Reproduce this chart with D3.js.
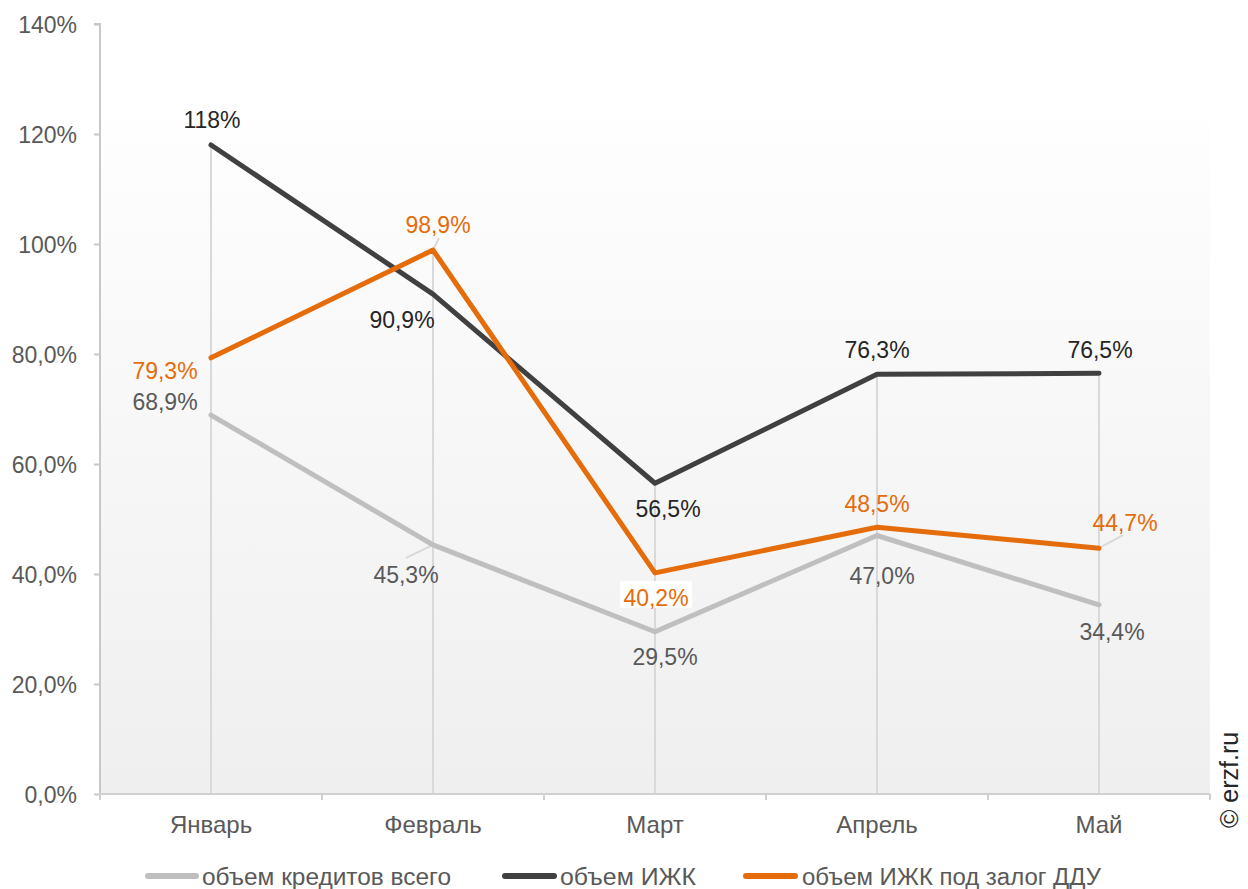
<!DOCTYPE html>
<html><head><meta charset="utf-8">
<script src="https://cdn.jsdelivr.net/npm/d3@7"></script>
<style>
html,body{margin:0;padding:0;background:#fff;}
svg{display:block;font-family:"Liberation Sans",Arial,sans-serif;}
</style></head>
<body><svg id="c" width="1248" height="889"></svg>
<script>
const categories = ["Январь","Февраль","Март","Апрель","Май"];
const totalCredits = [68.9, 45.3, 29.5, 47.0, 34.4];
const izhk = [118, 90.9, 56.5, 76.3, 76.5];
const izhkDdu = [79.3, 98.9, 40.2, 48.5, 44.7];
const totalLabels = ["68,9%","45,3%","29,5%","47,0%","34,4%"];
const izhkLabels = ["118%","90,9%","56,5%","76,3%","76,5%"];
const izhkDduLabels = ["79,3%","98,9%","40,2%","48,5%","44,7%"];
const yTicks = [0,20,40,60,80,100,120,140];
const yTickLabels = ["0,0%","20,0%","40,0%","60,0%","80,0%","100%","120%","140%"];
const legendNames = ["объем кредитов всего","объем ИЖК","объем ИЖК под залог ДДУ"];

const svg = d3.select("#c");
const L = 100, R = 1210, T = 24, B = 794;
const FS = 23;
const x = d3.scalePoint().domain(categories).range([L, R]).padding(0.5);
const xb = d3.scaleBand().domain(categories).range([L, R]);
const y = d3.scaleLinear().domain([0, 140]).range([B, T]);

// background gradient
const defs = svg.append("defs");
const g = defs.append("linearGradient").attr("id","bg").attr("x1",0).attr("y1",0).attr("x2",0).attr("y2",1);
g.append("stop").attr("offset","0%").attr("stop-color","#fefefe");
g.append("stop").attr("offset","100%").attr("stop-color","#efefef");
svg.append("rect").attr("x",L).attr("y",122).attr("width",R-L).attr("height",B-122).attr("fill","url(#bg)");

// drop lines
categories.forEach((c,i)=>{
  const top = Math.max(totalCredits[i], izhk[i], izhkDdu[i]);
  svg.append("line").attr("x1",x(c)).attr("x2",x(c)).attr("y1",y(top)).attr("y2",B)
    .attr("stroke","#d9d9d9").attr("stroke-width",2);
});

// y axis
const yAxis = svg.append("g").attr("transform",`translate(${L},0)`)
  .call(d3.axisLeft(y).tickValues(yTicks).tickSize(6).tickFormat((d,i)=>yTickLabels[i]));
yAxis.select(".domain").attr("stroke","#c8c8c8").attr("stroke-width",2).attr("d",`M-6,${T}H0V${B}`);
yAxis.selectAll(".tick line").attr("stroke","#c8c8c8").attr("stroke-width",2);
yAxis.selectAll(".tick text").attr("font-size",FS).attr("fill","#595959").attr("x",-23).attr("dy","0.35em")
  .attr("font-family","Liberation Sans, Arial, sans-serif");

// x axis
const xAxis = svg.append("g").attr("transform",`translate(0,${B})`)
  .call(d3.axisBottom(xb).tickSize(0).tickPadding(0));
xAxis.select(".domain").attr("stroke","#d0d0d0").attr("stroke-width",2).attr("d",`M${L},0H${R}`);
xAxis.selectAll(".tick text").attr("font-size",24).attr("fill","#595959").attr("y",39).attr("dy",0)
  .attr("font-family","Liberation Sans, Arial, sans-serif");
const bounds = categories.map(c=>xb(c)).concat([R]);
xAxis.selectAll(".bt").data(bounds).enter().append("line")
  .attr("x1",d=>d).attr("x2",d=>d).attr("y1",0).attr("y2",6).attr("stroke","#d0d0d0").attr("stroke-width",2);

// lines
const series = [
  {vals: totalCredits, color:"#bfbfbf", labels: totalLabels, tcolor:"#595959",
   off:[[-46,-5],[-27,38],[10,33],[5,48],[13,35]]},
  {vals: izhk, color:"#404040", labels: izhkLabels, tcolor:"#262626",
   off:[[1,-17],[-31,34],[13,34],[0,-16],[1,-15]]},
  {vals: izhkDdu, color:"#e46c0a", labels: izhkDduLabels, tcolor:"#e46c0a",
   off:[[-46,21],[5,-17],[1,33],[0,-15],[26,-17]]}
];
const line = d3.line().x((d,i)=>x(categories[i])).y(d=>y(d));

// leader lines
const leaders = [
  {s:0,i:1,to:[-27,13]},
  {s:2,i:1,to:[6,-12]},
  {s:2,i:4,to:[24,-13]}
];
leaders.forEach(l=>{
  const px = x(categories[l.i]), py = y(series[l.s].vals[l.i]);
  svg.append("line").attr("x1",px).attr("y1",py).attr("x2",px+l.to[0]).attr("y2",py+l.to[1])
    .attr("stroke","#d9d9d9").attr("stroke-width",2);
});

series.forEach(s=>{
  svg.append("path").datum(s.vals).attr("d",line).attr("fill","none").attr("stroke",s.color)
    .attr("stroke-width",5).attr("stroke-linecap","round").attr("stroke-linejoin","round");
});

// labels
series.forEach((s,si)=>{
  s.vals.forEach((v,i)=>{
    const lx = x(categories[i]) + s.off[i][0], ly = y(v) + s.off[i][1];
    if (si===2 && i===2) {
      svg.append("rect").attr("x",lx-36).attr("y",ly-25).attr("width",72).attr("height",27).attr("fill","#ffffff").attr("opacity",0.9);
    }
    svg.append("text").attr("x",lx).attr("y",ly).attr("text-anchor","middle")
      .attr("font-size",FS).attr("fill",s.tcolor).text(s.labels[i]);
  });
});

// legend
const leg = [
  {sx:145, ex:199, tx:202, tw:249},
  {sx:502, ex:557, tx:560, tw:136},
  {sx:743, ex:798, tx:802, tw:299}
];
leg.forEach((l,i)=>{
  svg.append("line").attr("x1",l.sx+3).attr("x2",l.ex-3).attr("y1",876).attr("y2",876)
    .attr("stroke",series[i].color).attr("stroke-width",6).attr("stroke-linecap","round");
  svg.append("text").attr("x",l.tx).attr("y",885).attr("font-size",23).attr("fill","#595959")
    .attr("textLength",l.tw).attr("lengthAdjust","spacingAndGlyphs").text(legendNames[i]);
});

// copyright
svg.append("text").attr("transform","translate(1238,828) rotate(-90)").attr("font-size",25)
  .attr("fill","#262626").text("© erzf.ru");
</script></body></html>
